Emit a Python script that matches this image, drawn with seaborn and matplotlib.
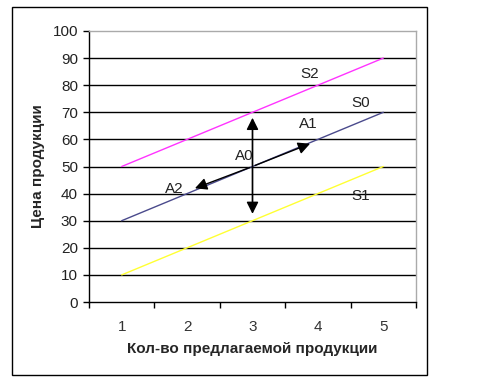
import numpy as np
import pandas as pd
import seaborn as sns
import matplotlib
matplotlib.use("Agg")
from matplotlib import pyplot as plt
from matplotlib.patches import Rectangle

quantity = [1, 2, 3, 4, 5]
s0 = [30, 40, 50, 60, 70]
s1 = [10, 20, 30, 40, 50]
s2 = [50, 60, 70, 80, 90]
series_names = ["S0", "S1", "S2"]
colors = {"S0": "#4a4a8c", "S1": "#ffff33", "S2": "#ff33ff"}

# arrows: (start, end)
arrow_vertical = ((3, 31.5), (3, 69))
arrow_a1 = ((3, 50), (3.92, 58.8))
arrow_a2 = ((3, 50), (2.08, 41.6))

# text labels on the chart
labels = ["S2", "S0", "A1", "A0", "A2", "S1"]
label_x = [3.87, 4.66, 3.85, 2.88, 1.8, 4.66]
label_y = [84, 73.5, 65.5, 54, 41.7, 39]

df = pd.DataFrame({
    "x": quantity * 3,
    "y": s0 + s1 + s2,
    "series": ["S0"] * 5 + ["S1"] * 5 + ["S2"] * 5,
})

sns.set_style("white")
plt.rcParams['font.family'] = ['Liberation Sans', 'DejaVu Sans']

fig = plt.figure(figsize=(4.84, 3.84), dpi=100)
ax = fig.add_axes([89 / 484, 82 / 384, 327 / 484, 271 / 384])

for y in range(10, 100, 10):
    ax.axhline(y, color="black", lw=1, zorder=0)

sns.lineplot(data=df, x="x", y="y", hue="series", palette=colors, ax=ax,
             legend=False, lw=1, zorder=2)

arrow_kw = dict(arrowstyle="-|>", color="black", lw=1, mutation_scale=18)
(x0, y0), (x1, y1) = arrow_vertical
ax.annotate("", xy=(x1, y1), xytext=(x0, y0 + 3), arrowprops=arrow_kw, zorder=3)
ax.annotate("", xy=(x0, y0), xytext=(x1, y1 - 3), arrowprops=arrow_kw, zorder=3)
for (xs, ys), (xe, ye) in [arrow_a1, arrow_a2]:
    ax.annotate("", xy=(xe, ye), xytext=(xs, ys), arrowprops=arrow_kw, zorder=3)

for t, lx, ly in zip(labels, label_x, label_y):
    ax.text(lx, ly, t, fontsize=11, color="#222222", ha="center", va="center")

ax.set_xlim(0.5, 5.5)
ax.set_ylim(0, 100)
ax.set_yticks(range(0, 101, 10))
ax.set_xticks(quantity)
ax.set_xticks(np.arange(0.5, 5.6, 1), minor=True)
ax.tick_params(axis="x", which="major", length=0, pad=13, labelsize=11, labelcolor="#333333")
ax.tick_params(axis="x", which="minor", length=4, direction="out", width=1, color="black")
ax.tick_params(axis="y", length=4, direction="out", width=1, color="black", labelsize=11,
               labelcolor="#222222", pad=4)
ax.tick_params(left=True, bottom=True, which="both")
ax.tick_params(axis="x", which="major", bottom=False)

for side in ["left", "bottom"]:
    ax.spines[side].set_color("black")
    ax.spines[side].set_linewidth(1)
for side in ["top", "right"]:
    ax.spines[side].set_color("#aaaaaa")
    ax.spines[side].set_linewidth(1)

ax.set_xlabel("Кол-во предлагаемой продукции", fontsize=11, fontweight="bold", labelpad=6)
ax.set_ylabel("Цена продукции", fontsize=11, fontweight="bold", labelpad=5)

fig.patches.append(Rectangle((12 / 484, 9 / 384), 415 / 484, 368 / 384, transform=fig.transFigure,
                             fill=False, edgecolor="black", lw=1))

fig.savefig("out.png", dpi=100)
